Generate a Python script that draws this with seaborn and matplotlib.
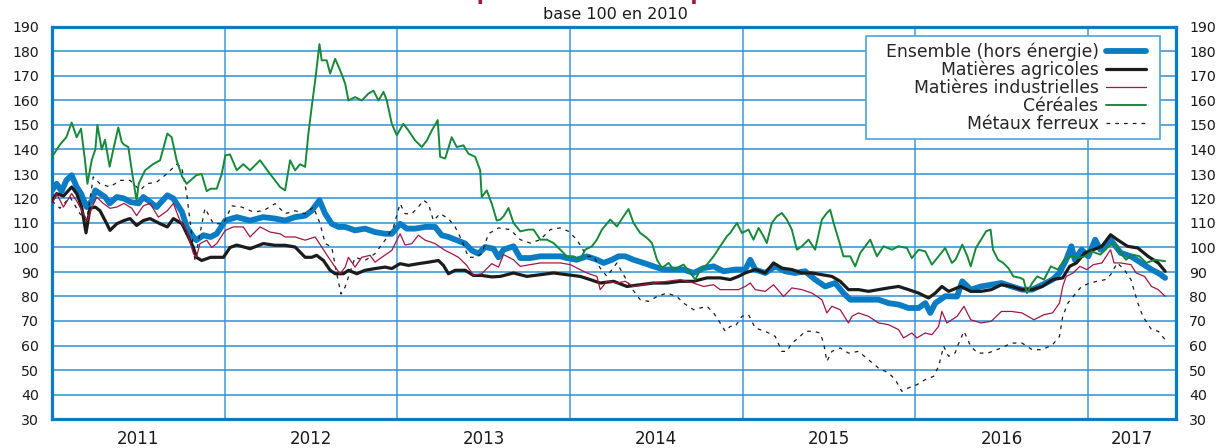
import numpy as np
import pandas as pd
import seaborn as sns
import matplotlib.pyplot as plt
from matplotlib.path import Path

# dates as decimal years, values base 100 en 2010
ens_t = [2011.000, 2011.027, 2011.056, 2011.083, 2011.114, 2011.143, 2011.168, 2011.201, 2011.230, 2011.251,
         2011.278, 2011.307, 2011.334, 2011.375, 2011.417, 2011.452, 2011.502, 2011.529, 2011.568, 2011.606,
         2011.668, 2011.703, 2011.753, 2011.780, 2011.819, 2011.836, 2011.877, 2011.919, 2011.954, 2012.004,
         2012.070, 2012.147, 2012.224, 2012.292, 2012.350, 2012.408, 2012.466, 2012.504, 2012.549, 2012.582,
         2012.620, 2012.659, 2012.698, 2012.755, 2012.813, 2012.871, 2012.929, 2012.968, 2013.016, 2013.055,
         2013.103, 2013.161, 2013.219, 2013.257, 2013.296, 2013.344, 2013.393, 2013.431, 2013.470, 2013.509,
         2013.557, 2013.586, 2013.615, 2013.673, 2013.712, 2013.770, 2013.828, 2013.886, 2013.944, 2013.982,
         2014.040, 2014.098, 2014.156, 2014.195, 2014.243, 2014.281, 2014.320, 2014.368, 2014.426, 2014.484,
         2014.542, 2014.600, 2014.658, 2014.716, 2014.774, 2014.832, 2014.890, 2014.957, 2015.015, 2015.044,
         2015.073, 2015.131, 2015.189, 2015.247, 2015.305, 2015.362, 2015.420, 2015.478, 2015.536, 2015.584,
         2015.623, 2015.671, 2015.729, 2015.787, 2015.845, 2015.903, 2015.961, 2016.019, 2016.058, 2016.087,
         2016.116, 2016.173, 2016.242, 2016.272, 2016.321, 2016.381, 2016.440, 2016.499, 2016.558, 2016.618,
         2016.677, 2016.736, 2016.795, 2016.835, 2016.874, 2016.904, 2016.924, 2016.963, 2017.002, 2017.042,
         2017.072, 2017.131, 2017.190, 2017.249, 2017.308, 2017.368, 2017.407, 2017.447]
ens_v = [123.3, 126, 123, 127.4, 129.5, 124.7, 122, 116.5, 119, 123.3,
         122, 120.6, 118, 120.6, 120, 118.6, 118, 120.6, 118.6, 116.5,
         121.3, 120, 114.5, 108.4, 104.3, 103, 105, 104.3, 105.6, 111,
         112.4, 111, 112.4, 111.8, 111, 112.4, 113, 115, 119.3, 113.8,
         109.7, 108.4, 108.4, 107, 107.7, 106.3, 105.6, 105.6, 109.7, 107.7,
         107.7, 108.4, 108.4, 105, 104.3, 103, 101.6, 98.8, 97.5, 100.2,
         99.5, 96, 99.1, 100.5, 95.7, 95.7, 96.4, 96.4, 96.4, 95.7,
         95, 96.4, 95, 93.7, 95, 96.4, 96.4, 95, 93.7, 92.3,
         91, 91, 91, 89.6, 91.6, 92.3, 90.3, 91, 91, 95,
         91, 89.6, 92.3, 90.3, 89.6, 90.3, 86.9, 84.1, 85.5, 81.4,
         78.7, 78.7, 78.7, 78.7, 77.3, 76.7, 75.3, 75.3, 77.3, 73.3,
         77.3, 80.1, 80, 86.2, 82.8, 84.1, 84.8, 85.5, 84.1, 82.8,
         82.8, 84.8, 86.9, 89.6, 95, 100.5, 95, 99.1, 96.4, 103.2,
         99.1, 103.2, 97.8, 96.4, 93.7, 91, 89.6, 87.6]

agr_t = [2011.000, 2011.027, 2011.066, 2011.114, 2011.143, 2011.172, 2011.197, 2011.220, 2011.251, 2011.278,
         2011.317, 2011.336, 2011.375, 2011.417, 2011.452, 2011.490, 2011.529, 2011.568, 2011.626, 2011.668,
         2011.703, 2011.753, 2011.790, 2011.819, 2011.836, 2011.867, 2011.919, 2011.993, 2012.031, 2012.070,
         2012.147, 2012.224, 2012.292, 2012.350, 2012.408, 2012.466, 2012.504, 2012.533, 2012.572, 2012.611,
         2012.640, 2012.688, 2012.717, 2012.765, 2012.813, 2012.871, 2012.929, 2012.968, 2013.016, 2013.064,
         2013.122, 2013.180, 2013.238, 2013.267, 2013.296, 2013.335, 2013.393, 2013.441, 2013.489, 2013.547,
         2013.596, 2013.673, 2013.750, 2013.828, 2013.905, 2013.982, 2014.059, 2014.117, 2014.175, 2014.253,
         2014.330, 2014.407, 2014.484, 2014.562, 2014.639, 2014.716, 2014.793, 2014.870, 2014.928, 2014.976,
         2015.015, 2015.073, 2015.131, 2015.179, 2015.227, 2015.285, 2015.343, 2015.401, 2015.459, 2015.517,
         2015.565, 2015.613, 2015.671, 2015.729, 2015.787, 2015.845, 2015.903, 2015.961, 2016.019, 2016.077,
         2016.116, 2016.154, 2016.193, 2016.262, 2016.321, 2016.381, 2016.440, 2016.499, 2016.558, 2016.618,
         2016.677, 2016.736, 2016.795, 2016.854, 2016.894, 2016.933, 2016.983, 2017.032, 2017.081, 2017.131,
         2017.170, 2017.229, 2017.289, 2017.348, 2017.407, 2017.447]
agr_v = [119, 122, 121, 124.7, 122, 116.5, 106, 116, 116.5, 115,
         109.7, 107, 109.7, 111, 111.8, 109, 111, 111.8, 109.7, 108.4,
         111.8, 109.7, 104.3, 100, 96, 94.7, 96, 96, 100, 101,
         99.5, 101.6, 100.9, 100.9, 100.2, 96, 96, 96.8, 94.7, 90.7,
         89.3, 89.3, 90.7, 89.3, 90.7, 91.4, 92, 91.4, 93.4, 92.7,
         93.4, 94, 94.7, 92.7, 89.3, 90.7, 90.7, 88.6, 88.6, 88,
         88.2, 89.6, 88.2, 88.9, 89.6, 88.9, 88.2, 86.9, 85.5, 86.2,
         84.1, 84.8, 85.5, 85.5, 86.2, 86.2, 87.6, 87.6, 86.9, 88.2,
         89.6, 91, 89.6, 93.7, 91.6, 91, 89.6, 89.6, 88.9, 88.2,
         86.2, 82.8, 82.8, 82.1, 82.8, 83.5, 84.1, 82.8, 81.4, 79.4,
         81.4, 84.1, 82.1, 84.1, 82.1, 82.1, 82.8, 84.8, 84.1, 82.8,
         82.8, 84.1, 86.9, 87.6, 92.3, 93.7, 97.8, 99.1, 100.5, 105.2,
         103.2, 100.5, 99.8, 96.4, 93.7, 90.3]

ind_t = [2011.000, 2011.027, 2011.066, 2011.114, 2011.143, 2011.182, 2011.205, 2011.230, 2011.259, 2011.297,
         2011.336, 2011.375, 2011.417, 2011.462, 2011.490, 2011.529, 2011.568, 2011.616, 2011.668, 2011.703,
         2011.741, 2011.780, 2011.819, 2011.836, 2011.857, 2011.896, 2011.925, 2011.954, 2012.004, 2012.050,
         2012.108, 2012.147, 2012.205, 2012.263, 2012.321, 2012.350, 2012.408, 2012.466, 2012.524, 2012.562,
         2012.601, 2012.640, 2012.669, 2012.698, 2012.717, 2012.755, 2012.794, 2012.842, 2012.871, 2012.910,
         2012.968, 2013.016, 2013.045, 2013.084, 2013.122, 2013.161, 2013.219, 2013.277, 2013.315, 2013.354,
         2013.402, 2013.441, 2013.489, 2013.547, 2013.586, 2013.615, 2013.673, 2013.712, 2013.770, 2013.828,
         2013.886, 2013.944, 2014.002, 2014.059, 2014.098, 2014.156, 2014.175, 2014.214, 2014.272, 2014.320,
         2014.368, 2014.426, 2014.484, 2014.562, 2014.639, 2014.716, 2014.774, 2014.832, 2014.870, 2014.928,
         2014.976, 2015.015, 2015.044, 2015.073, 2015.131, 2015.179, 2015.237, 2015.285, 2015.343, 2015.401,
         2015.459, 2015.488, 2015.517, 2015.565, 2015.613, 2015.633, 2015.671, 2015.729, 2015.787, 2015.845,
         2015.903, 2015.932, 2015.980, 2016.009, 2016.058, 2016.096, 2016.135, 2016.154, 2016.183, 2016.242,
         2016.282, 2016.321, 2016.381, 2016.440, 2016.499, 2016.558, 2016.618, 2016.687, 2016.746, 2016.795,
         2016.835, 2016.854, 2016.874, 2016.914, 2016.953, 2016.993, 2017.032, 2017.081, 2017.131, 2017.151,
         2017.190, 2017.249, 2017.279, 2017.328, 2017.368, 2017.407, 2017.447]
ind_v = [118, 122, 116.5, 122, 119, 113.8, 111, 116, 120.6, 118,
         116, 116.5, 118, 116, 113, 117, 118, 112.4, 115, 118,
         111, 107, 97.5, 96, 101.6, 103, 100, 101.6, 107, 108.4,
         108.4, 104.3, 108.4, 106.3, 105.6, 104.3, 104.3, 103, 104.3, 100.2,
         96, 92, 89.3, 92, 96, 92, 96, 96.8, 94, 96,
         98.8, 105.6, 101, 101.6, 105, 103, 101.6, 98.8, 97.5, 96,
         92.7, 88.6, 89.3, 93.4, 92, 97.1, 95, 92.3, 93, 93.7,
         93.7, 93.7, 93, 91, 89.6, 88.2, 82.8, 86.2, 85.5, 86.2,
         84.1, 84.8, 85.5, 86.2, 86.9, 85.5, 84.1, 84.8, 82.8, 82.8,
         82.8, 84.1, 85.5, 82.8, 82.1, 84.8, 80, 83.5, 82.8, 81.4,
         78.7, 73.3, 76, 74.6, 69.2, 71.9, 73.3, 71.9, 69.2, 68.5,
         66.5, 63.1, 65.1, 63.1, 65.1, 64.4, 67.8, 73.9, 69.2, 71.9,
         76, 70.5, 69.2, 69.9, 73.9, 73.9, 73.3, 70.5, 72.6, 73.3,
         77.3, 84.1, 88.2, 89.6, 92.3, 91, 93, 93.7, 99.1, 93.7,
         93.7, 93, 89.6, 88.2, 84.1, 82.8, 80.1]

cer_t = [2011.000, 2011.046, 2011.083, 2011.114, 2011.143, 2011.168, 2011.191, 2011.205, 2011.230, 2011.251,
         2011.263, 2011.288, 2011.307, 2011.334, 2011.355, 2011.384, 2011.404, 2011.417, 2011.442, 2011.462,
         2011.490, 2011.502, 2011.539, 2011.585, 2011.626, 2011.668, 2011.693, 2011.722, 2011.753, 2011.780,
         2011.836, 2011.867, 2011.896, 2011.919, 2011.954, 2011.983, 2012.004, 2012.031, 2012.070, 2012.108,
         2012.147, 2012.205, 2012.263, 2012.321, 2012.350, 2012.379, 2012.408, 2012.437, 2012.466, 2012.485,
         2012.504, 2012.524, 2012.549, 2012.562, 2012.591, 2012.611, 2012.640, 2012.669, 2012.698, 2012.717,
         2012.755, 2012.794, 2012.833, 2012.862, 2012.891, 2012.920, 2012.939, 2012.968, 2012.997, 2013.035,
         2013.064, 2013.103, 2013.142, 2013.171, 2013.200, 2013.234, 2013.248, 2013.277, 2013.315, 2013.344,
         2013.383, 2013.412, 2013.451, 2013.480, 2013.489, 2013.518, 2013.547, 2013.576, 2013.596, 2013.615,
         2013.644, 2013.673, 2013.712, 2013.760, 2013.789, 2013.828, 2013.866, 2013.905, 2013.944, 2013.982,
         2014.021, 2014.059, 2014.088, 2014.127, 2014.156, 2014.185, 2014.233, 2014.272, 2014.310, 2014.339,
         2014.368, 2014.407, 2014.446, 2014.475, 2014.504, 2014.533, 2014.571, 2014.600, 2014.658, 2014.697,
         2014.726, 2014.755, 2014.793, 2014.832, 2014.870, 2014.909, 2014.928, 2014.967, 2014.996, 2015.034,
         2015.063, 2015.092, 2015.121, 2015.140, 2015.169, 2015.198, 2015.227, 2015.256, 2015.285, 2015.314,
         2015.343, 2015.382, 2015.420, 2015.459, 2015.488, 2015.507, 2015.527, 2015.556, 2015.584, 2015.623,
         2015.652, 2015.681, 2015.710, 2015.739, 2015.778, 2015.816, 2015.865, 2015.903, 2015.951, 2015.980,
         2016.019, 2016.058, 2016.096, 2016.135, 2016.173, 2016.212, 2016.233, 2016.272, 2016.302, 2016.321,
         2016.351, 2016.381, 2016.410, 2016.436, 2016.450, 2016.479, 2016.509, 2016.539, 2016.568, 2016.608,
         2016.627, 2016.647, 2016.677, 2016.706, 2016.746, 2016.785, 2016.825, 2016.864, 2016.904, 2016.943,
         2016.983, 2017.022, 2017.072, 2017.121, 2017.151, 2017.190, 2017.220, 2017.259, 2017.299, 2017.338,
         2017.387, 2017.447]
cer_v = [137, 142, 145, 151, 145, 148.5, 135.6, 126, 135.6, 140,
         150, 140, 144, 133, 140, 149, 143, 142, 141, 131.5,
         119, 126, 131.5, 134, 135.6, 146.5, 145, 135.6, 129, 126,
         129.5, 130, 123, 124, 124, 130, 137.6, 138, 131.5, 134,
         131.5, 135.6, 130, 124.7, 123.3, 135.6, 131.5, 134, 132.9, 146.5,
         157.3, 168, 183, 176.4, 176.4, 171, 177, 172.3, 166.9, 160,
         161.4, 160, 162.8, 164, 160, 163.5, 160, 150.5, 145.8, 150.5,
         147.8, 143.7, 141, 143.7, 147.8, 152, 137, 136.3, 145, 141,
         141.7, 138.3, 137, 131.5, 120.6, 123.3, 117.9, 111, 111.4, 112.7,
         116.1, 110, 106.6, 107.3, 107.3, 103.2, 103.2, 101.8, 99.1, 96.4,
         96.4, 95, 99.1, 100.5, 103.2, 107.3, 111.4, 108.6, 112.7, 115.7,
         110, 105.9, 103.9, 101.8, 95, 91.6, 93.7, 91, 93, 89.6,
         86.9, 91, 93, 96.4, 100.5, 104.6, 105.9, 110, 105.9, 107.3,
         103.2, 108, 104.6, 101.8, 110, 112.7, 114.1, 111.4, 107.3, 99.1,
         100.5, 103.2, 99.1, 111.4, 114.1, 115.4, 110, 103.2, 96.4, 96.4,
         92.3, 97.8, 100.5, 103.2, 96.4, 100.5, 99.1, 100.5, 99.8, 95.7,
         99.1, 98.4, 93, 96.4, 99.8, 93.7, 95, 101.2, 96.4, 92.3,
         99.8, 103.2, 106.6, 107.3, 99.1, 95, 93.7, 91.6, 88.2, 87.6,
         86.9, 81.4, 85.5, 88.2, 86.9, 92.3, 91, 95, 96.4, 95.7,
         96.4, 98.4, 97.1, 100.5, 101.8, 97.8, 95, 97.1, 96.4, 93.7,
         95, 94.4]

met_t = [2011.000, 2011.046, 2011.104, 2011.162, 2011.201, 2011.239, 2011.278, 2011.336, 2011.394, 2011.452,
         2011.510, 2011.548, 2011.606, 2011.664, 2011.722, 2011.751, 2011.780, 2011.799, 2011.828, 2011.857,
         2011.886, 2011.935, 2011.993, 2012.041, 2012.099, 2012.166, 2012.224, 2012.292, 2012.350, 2012.408,
         2012.466, 2012.514, 2012.553, 2012.582, 2012.620, 2012.649, 2012.674, 2012.698, 2012.717, 2012.755,
         2012.813, 2012.871, 2012.929, 2012.978, 2013.016, 2013.045, 2013.084, 2013.122, 2013.151, 2013.180,
         2013.209, 2013.248, 2013.296, 2013.335, 2013.373, 2013.412, 2013.451, 2013.489, 2013.528, 2013.586,
         2013.654, 2013.712, 2013.770, 2013.828, 2013.886, 2013.944, 2013.992, 2014.040, 2014.098, 2014.137,
         2014.175, 2014.214, 2014.272, 2014.310, 2014.349, 2014.407, 2014.455, 2014.504, 2014.562, 2014.619,
         2014.658, 2014.716, 2014.755, 2014.793, 2014.832, 2014.870, 2014.899, 2014.928, 2014.957, 2014.996,
         2015.034, 2015.073, 2015.131, 2015.189, 2015.227, 2015.256, 2015.285, 2015.324, 2015.362, 2015.411,
         2015.449, 2015.469, 2015.488, 2015.517, 2015.565, 2015.613, 2015.671, 2015.729, 2015.787, 2015.845,
         2015.884, 2015.922, 2015.961, 2016.009, 2016.058, 2016.106, 2016.135, 2016.164, 2016.193, 2016.231,
         2016.252, 2016.282, 2016.321, 2016.361, 2016.420, 2016.499, 2016.558, 2016.618, 2016.677, 2016.736,
         2016.795, 2016.835, 2016.854, 2016.884, 2016.914, 2016.963, 2017.012, 2017.052, 2017.101, 2017.131,
         2017.170, 2017.210, 2017.249, 2017.289, 2017.318, 2017.368, 2017.407, 2017.447]
met_v = [119, 116, 120.6, 113.8, 111, 128.8, 126, 124.7, 127.4, 127.4,
         123.3, 126, 126.7, 130, 134, 132.9, 122, 111, 94.7, 105.6,
         116, 109.7, 109.7, 117, 116.5, 114.5, 115, 117.9, 113.8, 115,
         113.8, 116.5, 109.7, 101.6, 100.2, 89.3, 81, 83.9, 88, 96,
         94.7, 97.5, 103, 108.4, 117.9, 113.8, 113.8, 116.5, 119.3, 117.9,
         111, 113.8, 111.8, 108.4, 103, 96, 96, 97.5, 105.6, 108,
         107.3, 103.2, 101.8, 103.2, 107.3, 108, 106.6, 103.2, 96.4, 96.4,
         91.6, 88.2, 93.7, 88.9, 84.1, 78.7, 78, 80, 81.4, 80,
         77.3, 74.6, 75.3, 76, 73.3, 69.2, 65.8, 67.8, 67.8, 71.9,
         72.6, 67.1, 65.8, 63.7, 57.6, 57.6, 61, 63.1, 65.8, 65.8,
         65.1, 61, 53.5, 57.6, 59, 56.9, 57.6, 54.2, 50.8, 48.8,
         46.1, 41.3, 42.7, 44, 46.1, 47.4, 51.5, 59.7, 55.6, 57,
         61, 65.8, 59.7, 56.9, 56.9, 59, 61, 61, 58.3, 58.3,
         60.3, 63.7, 71.9, 77.3, 80, 84.1, 85.5, 86.2, 86.9, 88.9,
         93.7, 91, 86.9, 77.3, 71.9, 66.5, 65.8, 62.4]

year_bounds = [2012, 2013, 2014, 2015, 2016, 2017]
year_mids = [2011.5, 2012.5, 2013.5, 2014.5, 2015.5, 2016.5, 2017.255]
year_labels = ['2011', '2012', '2013', '2014', '2015', '2016', '2017']

sns.set_theme(style='white')
plt.rcParams['font.family'] = ['DejaVu Sans']

blue = '#0a7cc4'
grid_blue = '#2d8fd5'

fig = plt.figure(figsize=(12.18, 4.48), dpi=100)
ax = fig.add_axes([52 / 1218, 29 / 448, 1124 / 1218, 392 / 448])

series = [
    ('Ensemble (hors énergie)', ens_t, ens_v, blue, 4.2, '-', 3),
    ('Matières agricoles', agr_t, agr_v, '#1c1c1c', 2.3, '-', 4),
    ('Matières industrielles', ind_t, ind_v, '#a3163f', 0.9, '-', 5),
    ('Céréales', cer_t, cer_v, '#17893a', 1.4, '-', 6),
    ('Métaux ferreux', met_t, met_v, '#1c1c1c', 0.9, (0, (3, 4)), 3.5),
]
for name, t, v, col, lw, ls, z in series:
    df = pd.DataFrame({'date': t, 'indice': v})
    sns.lineplot(data=df, x='date', y='indice', ax=ax, color=col, lw=lw,
                 linestyle=ls, label=name, sort=False, estimator=None, zorder=z)

ax.set_xlim(2011, 2017.51)
ax.set_ylim(30, 190)
ax.set_xlabel('')
ax.set_ylabel('')

ax.set_yticks(np.arange(30, 191, 10))
ax.tick_params(axis='y', which='both', left=False, right=False, labelleft=True,
               labelright=True, labelsize=10.2, pad=3.5, labelcolor='#1a1a1a')
ax.set_xticks(year_bounds)
ax.set_xticklabels([])
ax.set_xticks(year_mids, minor=True)
ax.set_xticklabels(year_labels, minor=True)
ax.tick_params(axis='x', which='both', length=0, labelsize=12, pad=8, labelcolor='#1a1a1a')

ax.grid(axis='y', which='major', color=grid_blue, lw=1.1)
ax.grid(axis='x', which='major', color='#4ea3de', lw=1.2)
ax.set_axisbelow(True)
for s in ax.spines.values():
    s.set_visible(True)
    s.set_color(blue)
    s.set_linewidth(2.3)

leg = ax.legend(loc='upper right', bbox_to_anchor=(0.9786, 0.977), markerfirst=False,
                frameon=True, fancybox=False, edgecolor='#4ea3de', framealpha=1,
                fontsize=12.4, labelspacing=0.0, handlelength=2.3, handletextpad=0.45,
                borderpad=0.35, borderaxespad=0)


def wide_box(x0, y0, width, height, mutation_size):
    # legend frame: extra room left and right, none added above or below
    xa, xb = x0 - 14, x0 + width + 8
    ya, yb = y0, y0 + height
    return Path([(xa, ya), (xb, ya), (xb, yb), (xa, yb), (xa, ya)], closed=True)


leg.get_frame().set_boxstyle(wide_box)
leg.get_frame().set_linewidth(1.2)
leg.set_zorder(10)

fig.text(0.505, 0.967, 'base 100 en 2010', ha='center', va='center', fontsize=11.5, color='#1a1a1a')
# the title sits mostly above the top edge, as in the cropped source chart
fig.text(0.505, 1.0, 'Évolution des prix des matières premières en euros', ha='center',
         va='baseline', fontsize=15, fontweight='bold', color='#a3163f')

fig.savefig('out.png', dpi=100)
